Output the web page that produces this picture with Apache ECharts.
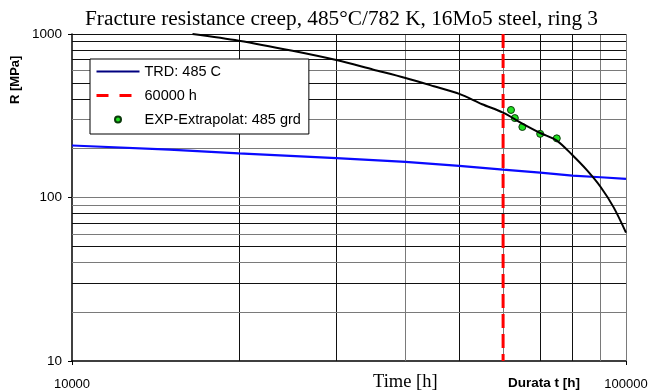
<!DOCTYPE html>
<html>
<head>
<meta charset="utf-8">
<script src="https://cdn.jsdelivr.net/npm/echarts@6/dist/echarts.min.js"></script>
<style>
  html, body { margin: 0; padding: 0; background: #fff; }
  #chart { width: 654px; height: 392px; }
</style>
</head>
<body>
<div id="chart"></div>
<script>
// TRD: 485 C (blue)
var trdTime = [10000, 15000, 20000, 30000, 40000, 50000, 60000, 70000, 80000, 90000, 100000];
var trdStress = [208, 196, 186, 174, 165, 156, 148, 142, 136, 133, 130];

// experimental extrapolation curve (black)
var curveTime = [16500, 20000, 25000, 30000, 35000, 40000, 45000, 50000, 55000, 60000, 65000, 70000, 75000, 80000, 85000, 90000, 95000, 100000];
var curveStress = [1000, 910, 790, 693, 605, 538, 479, 430, 372, 330, 283, 248, 223, 182, 147, 116, 87, 61];

// EXP-Extrapolat points
var expTime = [62000, 63000, 65000, 70000, 75000];
var expStress = [343, 306, 270, 245, 230];

// 60000 h marker
var markTime = 60000;

// grid lines
var xGrid = [20000, 30000, 40000, 50000, 60000, 70000, 80000, 90000, 100000];
var yGrid = [20, 30, 40, 50, 60, 70, 80, 90, 100, 200, 300, 400, 500, 600, 700, 800, 900, 1000];
var xLabels = ['10000', '100000'];
var yLabels = ['10', '100', '1000'];

var grayX = [40000, 60000, 90000, 100000];
var grayY = [20, 40, 60, 90, 100, 200, 300, 600];

function zip(a, b) {
	return a.map(function (v, i) { return [v, b[i]]; });
}

var gridLines = [];
xGrid.forEach(function (v) {
	gridLines.push({ xAxis: v, lineStyle: { color: grayX.indexOf(v) >= 0 ? '#7a7a7a' : '#111' } });
});
yGrid.forEach(function (v) {
	gridLines.push({ yAxis: v, lineStyle: { color: grayY.indexOf(v) >= 0 ? '#7a7a7a' : '#111' } });
});

var chart = echarts.init(document.getElementById('chart'), null, { renderer: 'canvas' });

var option = {
	animation: false,
	backgroundColor: '#fff',
	title: {
		text: 'Fracture resistance creep, 485°C/782 K, 16Mo5 steel, ring 3',
		left: 85,
		top: 9,
		padding: 0,
		textStyle: { fontFamily: 'Liberation Serif', fontWeight: 'normal', fontSize: 21.3, color: '#000' }
	},
	grid: { left: 72, right: 28, top: 34, bottom: 31, containLabel: false },
	legend: {
		orient: 'vertical',
		left: 90,
		top: 59,
		z: 10,
		padding: [5, 8, 7, 5],
		itemWidth: 43,
		itemHeight: 6,
		itemGap: 9,
		backgroundColor: '#fff',
		borderColor: '#000',
		borderWidth: 1,
		borderRadius: 0,
		textStyle: { fontFamily: 'Liberation Sans', fontSize: 14.5, color: '#000' },
		data: [
			{ name: 'TRD: 485 C', lineStyle: { color: '#000080', width: 2 }, itemStyle: { opacity: 0 } },
			{ name: '60000 h', lineStyle: { width: 3, type: [12, 11] }, itemStyle: { opacity: 0 } },
			{ name: 'EXP-Extrapolat: 485 grd', icon: 'circle' }
		]
	},
	xAxis: {
		type: 'log',
		logBase: 10,
		min: 10000,
		max: 100000,
		axisLine: { onZero: false, lineStyle: { color: '#000', width: 1.5 } },
		axisTick: { show: true, length: 4, lineStyle: { color: '#000' } },
		axisLabel: {
			margin: 17,
			fontFamily: 'Liberation Sans',
			fontSize: 13,
			color: '#000',
			showMinLabel: true,
			showMaxLabel: true,
			formatter: function (v) { return xLabels.indexOf(String(v)) >= 0 ? String(v) : ''; }
		},
		splitLine: { show: false }
	},
	yAxis: {
		type: 'log',
		logBase: 10,
		min: 10,
		max: 1000,
		axisLine: { show: true, onZero: false, lineStyle: { color: '#000', width: 1.5 } },
		axisTick: { show: true, length: 4, lineStyle: { color: '#000' } },
		axisLabel: {
			margin: 10,
			fontFamily: 'Liberation Sans',
			fontSize: 13.5,
			color: '#000',
			formatter: function (v) { return yLabels.indexOf(String(v)) >= 0 ? String(v) : ''; }
		},
		splitLine: { show: false }
	},
	graphic: [
		{
			type: 'text', left: 373, top: 373,
			style: { text: 'Time [h]', font: '18.5px "Liberation Serif"', fill: '#000' }
		},
		{
			type: 'text', left: 508, top: 376,
			style: { text: 'Durata t [h]', font: 'bold 13.5px "Liberation Sans"', fill: '#000' }
		},
		{
			type: 'text', x: 9, y: 104, rotation: Math.PI / 2,
			style: { text: 'R [MPa]', font: 'bold 13px "Liberation Sans"', fill: '#000' }
		}
	],
	series: [
		{
			name: 'grid',
			type: 'line',
			data: [],
			silent: true,
			z: 1,
			markLine: {
				z: 1,
				silent: true,
				symbol: ['none', 'none'],
				label: { show: false },
				lineStyle: { type: 'solid', width: 1 },
				data: gridLines
			}
		},
		{
			name: 'TRD: 485 C',
			type: 'line',
			data: zip(trdTime, trdStress),
			symbol: 'none',
			lineStyle: { color: '#0a0aff', width: 2.2 },
			itemStyle: { color: '#0a0aff' }
		},
		{
			name: 'curve',
			type: 'line',
			data: zip(curveTime, curveStress),
			symbol: 'none',
			smooth: 0.3,
			lineStyle: { color: '#000', width: 2 },
			itemStyle: { color: '#000' }
		},
		{
			name: '60000 h',
			type: 'line',
			data: [[markTime, 1000], [markTime, 10]],
			symbol: 'none',
			lineStyle: { color: '#ff0000', width: 3, type: [14, 6] },
			itemStyle: { color: '#ff0000' }
		},
		{
			name: 'EXP-Extrapolat: 485 grd',
			type: 'scatter',
			data: zip(expTime, expStress),
			symbol: 'circle',
			symbolSize: 7,
			itemStyle: { color: '#22e022', borderColor: '#0a3a0a', borderWidth: 1, opacity: 1 }
		}
	]
};

chart.setOption(option);
</script>
</body>
</html>
